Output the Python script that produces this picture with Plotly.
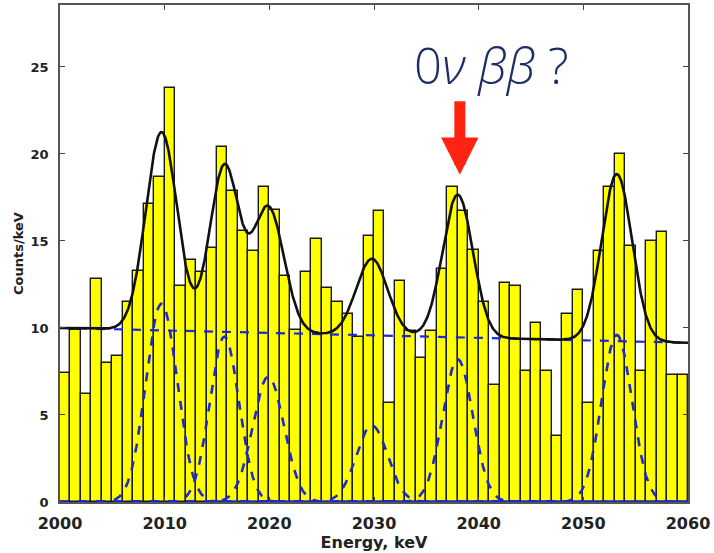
import numpy as np
import plotly.graph_objects as go

# Energy spectrum: 1 keV bins from 2000 to 2059 keV (counts per keV)
bin_low = list(range(2000, 2060))
counts = [
    7.4, 9.9, 6.2, 12.8, 8.0, 8.4, 11.5, 13.3, 17.1, 18.7,
    23.8, 12.4, 13.9, 13.2, 14.6, 20.4, 17.9, 15.6, 14.4, 18.1,
    16.8, 13.0, 9.9, 13.2, 15.1, 12.3, 11.5, 10.8, 9.5, 15.3,
    16.7, 5.7, 12.7, 9.8, 8.3, 9.8, 13.4, 18.1, 16.7, 14.5,
    11.5, 6.7, 12.6, 12.4, 7.5, 10.3, 7.5, 3.8, 10.8, 12.2,
    5.7, 14.4, 18.1, 20.0, 14.7, 7.5, 15.0, 15.5, 7.3, 7.3,
]

# Fit model: linear background plus Gaussian lines
bg_ends = [10.0, 9.15]          # background at 2000 and 2060 keV
peak_centers = [2009.7, 2015.7, 2019.9, 2029.8, 2038.0, 2053.2]
peak_amps = [11.4, 9.5, 7.2, 4.4, 8.2, 9.6]
peak_sigmas = [1.5, 1.4, 1.5, 1.5, 1.45, 1.45]

E = np.linspace(2000, 2060, 1201)
background = bg_ends[0] + (bg_ends[1] - bg_ends[0]) * (E - 2000) / 60.0
lines = [a * np.exp(-0.5 * ((E - c) / s) ** 2)
         for c, a, s in zip(peak_centers, peak_amps, peak_sigmas)]
total = background + np.sum(lines, axis=0)

fig = go.Figure()

fig.add_trace(go.Bar(
    x=[b + 0.5 for b in bin_low], y=counts, width=1.0,
    marker=dict(color="#ffff00", line=dict(color="#1a1a1a", width=1.4)),
    showlegend=False,
))

for g in lines:
    fig.add_trace(go.Scatter(
        x=E, y=g, mode="lines",
        line=dict(color="#1c28d6", width=2.6, dash="dash"),
        showlegend=False,
    ))

fig.add_trace(go.Scatter(
    x=E, y=background, mode="lines",
    line=dict(color="#1c28d6", width=2.2, dash="dash"),
    showlegend=False,
))

fig.add_trace(go.Scatter(
    x=E, y=total, mode="lines",
    line=dict(color="#111111", width=2.6),
    showlegend=False,
))

# Label and arrow marking the 0νββ candidate line
fig.add_annotation(
    x=2038.2, y=18.8, xref="x", yref="y",
    text="", showarrow=True, ax=0, ay=-75,
    arrowhead=2, arrowwidth=11, arrowsize=0.68, arrowcolor="#ff2412",
)
fig.add_annotation(
    x=2041.2, y=25.1, xref="x", yref="y",
    text="0<i>ν</i> <i>ββ</i> ?", showarrow=False,
    xanchor="center", yanchor="middle",
    font=dict(family="Open Sans", size=49, color="#1b2f66", weight=300),
)

x_font = dict(family="DejaVu Sans", size=16, color="#222222", weight="bold")
y_font = dict(family="DejaVu Sans", size=13, color="#222222", weight="bold")

fig.update_layout(
    width=714, height=553,
    margin=dict(l=60, r=26, t=5, b=51),
    paper_bgcolor="white", plot_bgcolor="white",
    bargap=0,
    xaxis=dict(
        range=[2000, 2060], tickvals=[2000, 2010, 2020, 2030, 2040, 2050, 2060],
        ticks="inside", ticklen=5, tickcolor="#444", mirror="ticks",
        showline=True, linecolor="#555555", linewidth=1.5, showgrid=False,
        zeroline=False, tickfont=x_font, ticklabelstandoff=6, automargin=False,
        title=dict(text="Energy, keV", font=x_font, standoff=2),
    ),
    yaxis=dict(
        range=[0, 28.56], tickvals=[0, 5, 10, 15, 20, 25],
        ticks="inside", ticklen=5, tickcolor="#444", mirror="ticks",
        showline=True, linecolor="#555555", linewidth=1.5, showgrid=False,
        zeroline=False, tickfont=y_font, ticklabelstandoff=7, automargin=False,
        title=dict(text="Counts/keV", font=y_font, standoff=4),
    ),
)

fig.write_html("out.html")
